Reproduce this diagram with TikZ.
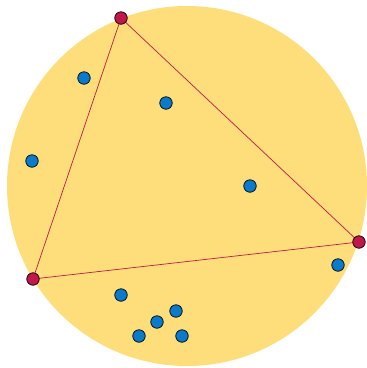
\documentclass[tikz,border=0pt]{standalone}
\definecolor{disc}{HTML}{FDDE7A}
\definecolor{hullred}{HTML}{C0184A}
\definecolor{ptblue}{HTML}{0A7ACC}
\begin{document}
\begin{tikzpicture}[x=1pt,y=-1pt,
  hullpt/.style={circle,draw=black,line width=0.7pt,fill=hullred,minimum size=12.5pt,inner sep=0pt},
  inpt/.style={circle,draw=black,line width=0.7pt,fill=ptblue,minimum size=12.5pt,inner sep=0pt},
  edge/.style={draw=hullred,line width=0.7pt}]
\useasboundingbox (0,0) rectangle (367,368);
\fill[disc] (187,186) circle (180);
\coordinate (a) at (121,18);
\coordinate (b) at (359,242);
\coordinate (c) at (33,279);
\draw[edge] (a) -- (b) -- (c) -- cycle;
\node[hullpt] (A) at (a) {};
\node[hullpt] (B) at (b) {};
\node[hullpt] (C) at (c) {};
\node[inpt] (p1) at (84,78) {};
\node[inpt] (p2) at (166,103) {};
\node[inpt] (p3) at (32,161) {};
\node[inpt] (p4) at (250,186) {};
\node[inpt] (p5) at (338,265) {};
\node[inpt] (p6) at (121,295) {};
\node[inpt] (p7) at (176,311) {};
\node[inpt] (p8) at (157,322) {};
\node[inpt] (p9) at (139,336) {};
\node[inpt] (p10) at (182,336) {};
\end{tikzpicture}
\end{document}
